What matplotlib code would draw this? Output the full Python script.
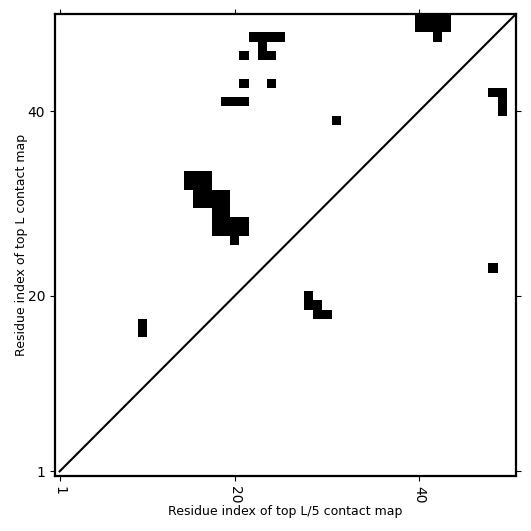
import numpy as np
import matplotlib
matplotlib.use('Agg')
import matplotlib.pyplot as plt

L = 50

# contacts as (column residue, row residue), 1-based
contact_x = [22, 23, 24, 25, 23, 23, 24, 21, 21, 24, 19, 20, 21,
             40, 41, 42, 43, 40, 41, 42, 43, 42,
             48, 49, 49, 49, 31,
             15, 16, 17, 15, 16, 17, 16, 17, 18, 19, 16, 17, 18, 19,
             18, 19, 18, 19, 18, 19, 20, 21, 20, 21, 20,
             28, 28, 29, 29, 30, 10, 10, 48]
contact_y = [48, 48, 48, 48, 47, 46, 46, 46, 43, 43, 41, 41, 41,
             50, 50, 50, 50, 49, 49, 49, 49, 48,
             42, 42, 41, 40, 39,
             33, 33, 33, 32, 32, 32, 31, 31, 31, 31, 30, 30, 30, 30,
             29, 29, 28, 28, 27, 27, 28, 28, 27, 27, 26,
             20, 19, 19, 18, 18, 17, 16, 23]

tick_vals = [1, 20, 40]

cmap = np.zeros((L, L))
for cx, cy in zip(contact_x, contact_y):
    cmap[cy - 1, cx - 1] = 1

fig = plt.figure(figsize=(5.31, 5.31), dpi=100)
ax = fig.add_axes([0.1036, 0.1036, 0.868, 0.870])

ax.imshow(cmap, cmap='Greys', origin='lower', interpolation='nearest',
          extent=(0.5, L + 0.5, 0.5, L + 0.5), aspect='auto', vmin=0, vmax=1)
ax.plot([1, L + 0.5], [1, L + 0.5], color='black', linewidth=1.5)

ax.set_xlim(0.5, L + 0.5)
ax.set_ylim(0.5, L + 0.5)
ax.set_xticks(tick_vals)
ax.set_yticks(tick_vals)
ax.set_xticklabels([str(t) for t in tick_vals], rotation=-90)
ax.tick_params(top=True, right=True, direction='out')
for sp in ax.spines.values():
    sp.set_linewidth(1.6)

ax.set_xlabel('Residue index of top L/5 contact map', fontsize=9, labelpad=1)
ax.set_ylabel('Residue index of top L contact map', fontsize=9, labelpad=-0.5)

fig.savefig('out.png', dpi=100)
